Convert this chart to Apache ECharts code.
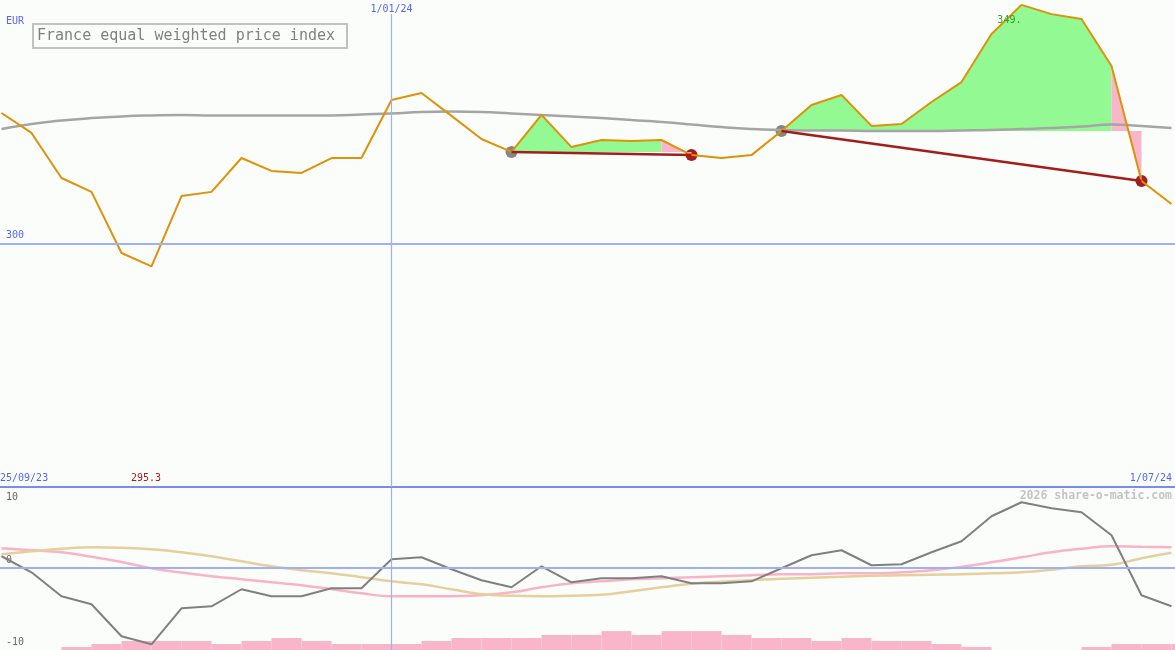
<!DOCTYPE html>
<html><head><meta charset="utf-8">
<script src="https://cdn.jsdelivr.net/npm/echarts@6/dist/echarts.min.js"></script>
<style>html,body{margin:0;padding:0;background:#fbfdfb;}#c{width:1175px;height:650px;}</style>
</head><body><div id="c"></div>
<script>
// ---- data (weekly points) ----
const startLabel = '25/09/23';
const endLabel = '1/07/24';
const yearLabel = '1/01/24';
const yearIndex = 13;
const unitLabel = 'EUR';
const seriesName = 'France equal weighted price index';
const watermark = '2026 share-o-matic.com';
const priceTickValues = [300];
const momentumTickValues = [10, 0, -10];

const price = [326.8, 322.7, 313.45, 310.6, 298.05, 295.3, 309.75, 310.6, 317.55, 314.9,
  314.5, 317.55, 317.55, 329.45, 330.9, 326.2, 321.45, 318.8, 326.4, 319.8,
  321.25, 321.05, 321.25, 318.15, 317.55, 318.15, 323.1, 328.45, 330.5, 324.15,
  324.55, 329.05, 333.15, 343.0, 349.0, 347.1, 346.1, 336.45, 312.85, 308.1];
const priceMA = [323.5, 324.55, 325.25, 325.75, 326.1, 326.3, 326.4, 326.3, 326.3, 326.3,
  326.3, 326.3, 326.5, 326.7, 327.0, 327.1, 327.0, 326.7, 326.4, 326.1,
  325.75, 325.35, 324.95, 324.45, 323.9, 323.5, 323.3, 323.2, 323.2, 323.1,
  323.1, 323.1, 323.2, 323.3, 323.5, 323.7, 324.0, 324.45, 324.15, 323.7];
const momentum = [1.47, -0.67, -3.87, -4.93, -9.2, -10.27, -5.47, -5.2, -2.93, -3.87,
  -3.87, -2.8, -2.8, 1.07, 1.33, -0.27, -1.73, -2.67, 0.13, -2.0,
  -1.47, -1.47, -1.2, -2.13, -2.13, -1.87, -0.13, 1.6, 2.27, 0.27,
  0.4, 2.0, 3.47, 6.8, 8.67, 7.87, 7.33, 4.27, -3.73, -5.2];
const momentumPink = [2.53, 2.27, 2.0, 1.4, 0.7, -0.13, -0.7, -1.2, -1.6, -2.0,
  -2.4, -2.93, -3.47, -3.87, -3.87, -3.87, -3.73, -3.33, -2.67, -2.13,
  -1.87, -1.6, -1.47, -1.33, -1.2, -1.07, -0.93, -0.93, -0.8, -0.8,
  -0.67, -0.4, 0.07, 0.67, 1.33, 2.0, 2.47, 2.8, 2.73, 2.67];
const momentumTan = [1.73, 2.13, 2.47, 2.67, 2.6, 2.4, 2.0, 1.47, 0.8, 0.13,
  -0.4, -0.8, -1.33, -1.87, -2.27, -2.93, -3.6, -3.8, -3.87, -3.8,
  -3.67, -3.2, -2.67, -2.2, -1.93, -1.73, -1.53, -1.4, -1.27, -1.13,
  -1.07, -1.0, -0.93, -0.8, -0.67, -0.33, 0.13, 0.35, 1.2, 1.93];
// histogram bar for each week interval (index j .. j+1)
const histogram = [0, 0, 1, 2, 3, 3, 3, 2, 3, 4,
  3, 2, 2, 2, 3, 4, 4, 4, 5, 5,
  6.3, 5, 6.3, 6.3, 5, 4, 4, 3, 4, 3,
  3, 2, 1, 0, 0, 0, 1, 2, 2, 2];
// [entry index, exit index]
const trades = [[17, 23], [26, 38]];

// ---- chart ----
const bg = '#fbfdfb';
const mono = 'DejaVu Sans Mono';
const blue = '#5566ee';
const darkRed = '#a31d1d';
const refBlue = '#a0b0f6';
const X_MIN = -0.05, X_MAX = X_MIN + 1175 / 30;
const LOW_MIN = -11.03, LOW_MAX = 10.57;
const pts = arr => arr.map((v, i) => [i, v]);
const minIdx = price.indexOf(Math.min(...price));
const maxIdx = price.indexOf(Math.max(...price));

function xAx(grid, extra) {
  return Object.assign({
    type: 'value', gridIndex: grid, min: X_MIN, max: X_MAX,
    axisLine: {show: false}, axisTick: {show: false}, splitLine: {show: false},
    axisLabel: {show: false}
  }, extra);
}
function yAx(grid, min, max, extra) {
  return Object.assign({
    type: 'value', gridIndex: grid, min: min, max: max, position: 'left', offset: 0,
    axisLine: {show: false}, axisTick: {show: false}, splitLine: {show: false},
    axisLabel: {show: false}
  }, extra);
}
const small = {fontSize: 10, fontFamily: mono};

const xAxis = [
  xAx(0, {position: 'bottom', axisLine: {show: true, lineStyle: {color: '#7b8bef', width: 2}},
    axisLabel: Object.assign({show: true, inside: true, margin: 4, customValues: [X_MIN],
      formatter: () => startLabel, align: 'left', color: blue}, small)}),
  xAx(0, {position: 'bottom',
    axisLabel: Object.assign({show: true, inside: true, margin: 4, customValues: [X_MAX],
      formatter: () => endLabel, align: 'right', padding: [0, 3, 0, 0], color: blue}, small)}),
  xAx(0, {position: 'top', z: 10,
    axisLabel: Object.assign({show: true, inside: true, margin: 0, customValues: [yearIndex],
      formatter: () => yearLabel, align: 'center', color: blue, backgroundColor: bg,
      padding: [4, 3, 0, 3]}, small)}),
  xAx(0, {position: 'bottom',
    axisLabel: Object.assign({show: true, inside: true, margin: 4, customValues: [minIdx],
      formatter: () => price[minIdx].toFixed(1), align: 'center', padding: [0, 11, 0, 0],
      color: darkRed}, small)}),
  xAx(1, {position: 'bottom'})
];
const yAxis = [
  yAx(0, 250, 350, {axisLabel: Object.assign({show: true, inside: true, margin: 6,
    customValues: priceTickValues, formatter: v => String(v), verticalAlign: 'bottom',
    padding: [0, 0, 3, 0], color: blue}, small)}),
  yAx(1, LOW_MIN, LOW_MAX, {axisLabel: Object.assign({show: true, inside: true, margin: 6,
    customValues: [momentumTickValues[1]], formatter: v => String(v), verticalAlign: 'bottom',
    padding: [0, 0, 2, 0], color: '#666'}, small)}),
  yAx(1, LOW_MIN, LOW_MAX, {axisLabel: Object.assign({show: true, inside: true, margin: 6,
    customValues: [momentumTickValues[0]], formatter: v => String(v), verticalAlign: 'top',
    color: '#666'}, small)}),
  yAx(1, LOW_MIN, LOW_MAX, {axisLabel: Object.assign({show: true, inside: true, margin: 6,
    customValues: [momentumTickValues[2]], formatter: v => String(v), verticalAlign: 'middle',
    color: '#666'}, small)}),
  yAx(1, 0, 54, {})
];

const series = [];
series.push({type: 'bar', xAxisIndex: 4, yAxisIndex: 4, silent: true,
  data: histogram.map((v, j) => [j + 0.5, v]), barWidth: 30, barGap: '-100%',
  itemStyle: {color: '#f9b5ca'}});

function fill(data, color, base) {
  return {type: 'line', xAxisIndex: 0, yAxisIndex: 0, data: data, symbol: 'none', silent: true,
    lineStyle: {width: 0, opacity: 0}, areaStyle: {color: color, opacity: 1, origin: base}};
}
trades.forEach(([a, b]) => {
  const base = price[a];
  series.push(fill(pts(price).slice(a, b), '#93f993', base));
  series.push(fill(pts(price).slice(b - 1, b + 1), '#f9b5ca', base));
});

series.push({type: 'line', xAxisIndex: 0, yAxisIndex: 0, data: pts(priceMA), smooth: true,
  symbol: 'none', silent: true, lineStyle: {color: '#a5a5a5', width: 2.5},
  markLine: {silent: true, symbol: 'none', label: {show: false}, animation: false,
    data: [
      {yAxis: priceTickValues[0], lineStyle: {color: refBlue, width: 2, type: 'solid'}},
      {xAxis: yearIndex, lineStyle: {color: refBlue, width: 1.2, type: 'solid'}}
    ]}});

series.push({type: 'line', xAxisIndex: 0, yAxisIndex: 0, data: pts(price), symbol: 'none',
  silent: true, lineStyle: {color: '#dd9208', width: 2},
  markPoint: {silent: true, symbol: 'circle', symbolSize: 0.1, animation: false,
    data: [{coord: [maxIdx, price[maxIdx]], value: price[maxIdx]}],
    label: {show: true, position: [0, 11], align: 'right', verticalAlign: 'top',
      formatter: p => p.value.toFixed(0) + '.', color: '#35a035', fontSize: 10, fontFamily: mono}}});

trades.forEach(([a, b]) => {
  series.push({type: 'line', xAxisIndex: 0, yAxisIndex: 0, symbol: 'none', silent: true,
    data: [[a, price[a]], [b, price[b]]], lineStyle: {color: darkRed, width: 2.5}});
});
series.push({type: 'scatter', xAxisIndex: 0, yAxisIndex: 0, silent: true, symbolSize: 12,
  data: trades.map(t => [t[0], price[t[0]]]), itemStyle: {color: '#858585', opacity: 1}});
series.push({type: 'scatter', xAxisIndex: 0, yAxisIndex: 0, silent: true, symbolSize: 12,
  data: trades.map(t => [t[1], price[t[1]]]), itemStyle: {color: darkRed, opacity: 1}});

series.push({type: 'line', xAxisIndex: 4, yAxisIndex: 1, data: pts(momentumPink), smooth: true,
  symbol: 'none', silent: true, lineStyle: {color: '#f9b3c9', width: 2.5},
  markLine: {silent: true, symbol: 'none', label: {show: false}, animation: false,
    data: [
      {yAxis: momentumTickValues[1], lineStyle: {color: refBlue, width: 2, type: 'solid'}},
      {xAxis: yearIndex, lineStyle: {color: refBlue, width: 1.2, type: 'solid'}}
    ]}});
series.push({type: 'line', xAxisIndex: 4, yAxisIndex: 1, data: pts(momentumTan), smooth: true,
  symbol: 'none', silent: true, lineStyle: {color: '#e6cf9c', width: 2.5}});
series.push({type: 'line', xAxisIndex: 4, yAxisIndex: 1, data: pts(momentum),
  symbol: 'none', silent: true, lineStyle: {color: '#808080', width: 2}});

const chart = echarts.init(document.getElementById('c'));
chart.setOption({
  animation: false,
  backgroundColor: bg,
  title: [
    {text: unitLabel, left: 6, top: 15, padding: 0,
      textStyle: {fontSize: 10, fontFamily: mono, color: blue, fontWeight: 'normal', lineHeight: 12}},
    {text: seriesName, left: 33, top: 24, padding: [2, 12, 2, 4], borderWidth: 2, borderColor: '#c2c2c2',
      textStyle: {fontSize: 15, fontFamily: mono, color: '#808080', fontWeight: 'normal', lineHeight: 20}},
    {text: watermark, right: 3, top: 490, padding: 0,
      textStyle: {fontSize: 11.5, fontFamily: mono, color: '#c4c4c4', fontWeight: 'bold', lineHeight: 13}}
  ],
  grid: [
    {left: 0, right: 0, top: 0, height: 487, containLabel: false, outerBoundsMode: 'none'},
    {left: 0, right: 0, top: 488, height: 162, containLabel: false, outerBoundsMode: 'none'}
  ],
  xAxis: xAxis,
  yAxis: yAxis,
  series: series
});
</script></body></html>
